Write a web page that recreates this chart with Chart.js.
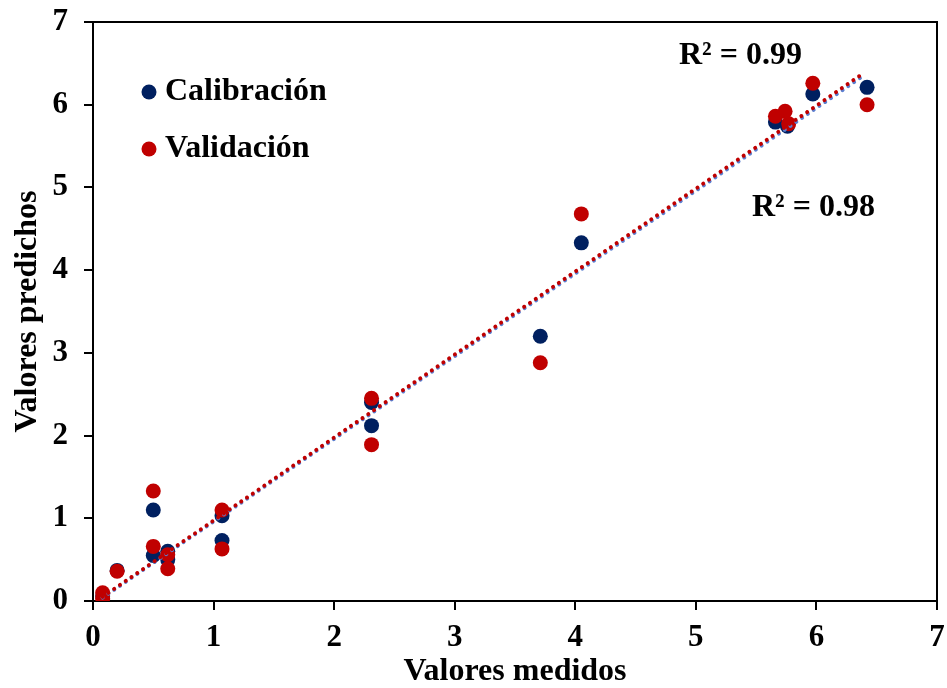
<!DOCTYPE html>
<html>
<head>
<meta charset="utf-8">
<script src="https://cdn.jsdelivr.net/npm/chart.js@4/dist/chart.umd.min.js"></script>
<style>
  body { margin: 0; background: #fff; }
  #wrap { width: 947px; height: 688px; }
</style>
</head>
<body>
<div id="wrap"><canvas id="scatter" width="947" height="688"></canvas></div>
<script>
// measured vs predicted values
var calMedidos   = [0.08, 0.20, 0.50, 0.50, 0.62, 0.62, 1.07, 1.07, 2.31, 2.31, 3.71, 4.05, 5.66, 5.76, 5.97, 6.42];
var calPredichos = [0.06, 0.37, 1.10, 0.55, 0.60, 0.50, 1.03, 0.73, 2.40, 2.12, 3.20, 4.33, 5.79, 5.74, 6.13, 6.21];
var valMedidos   = [0.08, 0.08, 0.20, 0.50, 0.50, 0.62, 0.62, 1.07, 1.07, 2.31, 2.31, 3.71, 4.05, 5.66, 5.74, 5.77, 5.97, 6.42];
var valPredichos = [0.10, 0.03, 0.36, 1.33, 0.66, 0.56, 0.39, 1.10, 0.63, 2.45, 1.89, 2.88, 4.68, 5.86, 5.92, 5.77, 6.26, 6.00];

// trend line end points
var calTendX = [0.08, 6.38];
var calTendY = [0.04, 6.34];
var valTendX = [0.08, 6.37];
var valTendY = [0.05, 6.36];

var axisTicks = [0, 1, 2, 3, 4, 5, 6, 7];
var r2Labels = ['R\u00b2 = 0.99', 'R\u00b2 = 0.98'];

function pts(xs, ys) {
    return xs.map(function (x, i) { return { x: x, y: ys[i] }; });
}

var serif = 'Liberation Serif, Times New Roman, serif';

// box round the plot, inside legend and R² labels
var extras = {
    id: 'extras',
    afterDraw: function (chart) {
        var ctx = chart.ctx;
        var a = chart.chartArea;
        ctx.save();
        ctx.strokeStyle = '#000';
        ctx.lineWidth = 2;
        ctx.beginPath();
        ctx.moveTo(a.left, a.top);
        ctx.lineTo(a.right, a.top);
        ctx.lineTo(a.right, a.bottom);
        ctx.stroke();

        ctx.font = 'bold 32px ' + serif;
        ctx.textBaseline = 'middle';
        var items = [chart.data.datasets[2], chart.data.datasets[3]];
        items.forEach(function (ds, i) {
            var y = 92 + i * 57;
            ctx.fillStyle = ds.backgroundColor;
            ctx.beginPath();
            ctx.arc(149, y, 7.5, 0, Math.PI * 2);
            ctx.fill();
            ctx.fillStyle = '#000';
            ctx.textAlign = 'left';
            ctx.fillText(ds.label, 165, y);
        });

        ctx.fillStyle = '#000';
        ctx.textAlign = 'left';
        ctx.fillText(r2Labels[0], 679, 56);
        ctx.fillText(r2Labels[1], 752, 208);
        ctx.restore();
    }
};

function axis(title, fit) {
    return {
        type: 'linear',
        min: 0,
        max: 7,
        afterBuildTicks: function (s) {
            s.ticks = axisTicks.map(function (v) { return { value: v }; });
        },
        afterFit: fit,
        grid: {
            drawOnChartArea: false,
            drawTicks: true,
            tickLength: 9,
            color: '#000',
            lineWidth: 2
        },
        border: { display: true, color: '#000', width: 2 },
        ticks: {
            color: '#000',
            font: { family: serif, size: 31, weight: 'bold' }
        },
        title: {
            display: true,
            text: title,
            color: '#000',
            font: { family: serif, size: 32, weight: 'bold' }
        }
    };
}

// fixed axis sizes; labels may overhang the plot edges
var xAxis = axis('Valores medidos', function (s) {
    s.height = 87;
    s.paddingLeft = 0;
    s.paddingRight = 0;
});
xAxis.ticks.padding = 9;
xAxis.title.padding = { top: 0, bottom: -3 };
var yAxis = axis('Valores predichos', function (s) {
    s.width = 93;
    s.paddingTop = 0;
    s.paddingBottom = 0;
});
yAxis.ticks.padding = 16;
yAxis.title.padding = { top: 9, bottom: 0 };

var chart = new Chart(document.getElementById('scatter').getContext('2d'), {
    type: 'scatter',
    data: {
        datasets: [{
            label: 'Tendencia validación',
            data: pts(valTendX, valTendY),
            showLine: true,
            borderColor: '#c00000',
            borderWidth: 4,
            borderDash: [0.01, 7],
            borderCapStyle: 'round',
            pointRadius: 0,
            order: 0
        }, {
            label: 'Tendencia calibración',
            data: pts(calTendX, calTendY),
            showLine: true,
            borderColor: '#5b7fd0',
            borderWidth: 4,
            borderDash: [0.01, 7],
            borderCapStyle: 'round',
            pointRadius: 0,
            order: 1
        }, {
            label: 'Calibración',
            data: pts(calMedidos, calPredichos),
            backgroundColor: '#002060',
            borderColor: '#002060',
            pointRadius: 7.5,
            borderWidth: 0,
            order: 3
        }, {
            label: 'Validación',
            data: pts(valMedidos, valPredichos),
            backgroundColor: '#c00000',
            borderColor: '#c00000',
            pointRadius: 7.5,
            borderWidth: 0,
            order: 2
        }]
    },
    options: {
        responsive: false,
        animation: false,
        layout: { padding: { top: 22, right: 10, left: 0, bottom: 0 } },
        plugins: {
            legend: { display: false },
            tooltip: { enabled: false }
        },
        scales: { x: xAxis, y: yAxis }
    },
    plugins: [extras]
});
</script>
</body>
</html>
